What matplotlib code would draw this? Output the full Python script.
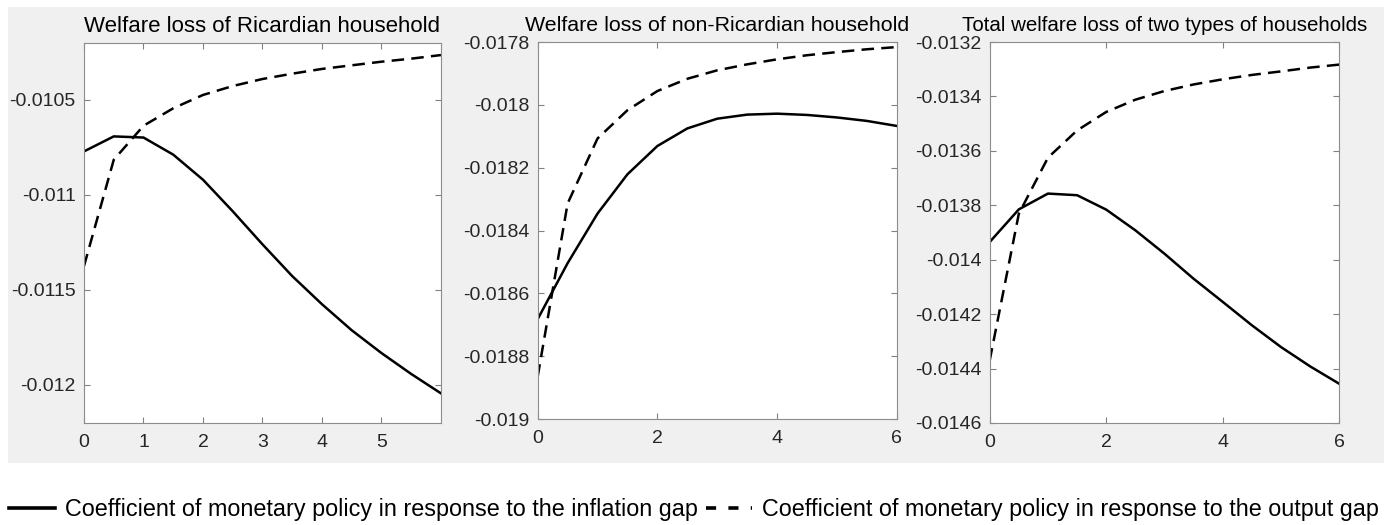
import matplotlib
matplotlib.use("Agg")
import matplotlib.pyplot as plt
from matplotlib.patches import Rectangle
from matplotlib.lines import Line2D
import numpy as np

plt.rcParams['font.family'] = ['Liberation Sans', 'DejaVu Sans']

# policy coefficient grid
coef = [0, 0.5, 1, 1.5, 2, 2.5, 3, 3.5, 4, 4.5, 5, 5.5, 6]

# Ricardian household
ric_infl = [-0.010771, -0.010692, -0.010698, -0.010788, -0.010920, -0.011086, -0.011260,
            -0.011427, -0.011575, -0.011712, -0.011832, -0.011942, -0.012044]
ric_out = [-0.011374, -0.010815, -0.010636, -0.010544, -0.010474, -0.010427, -0.010390,
           -0.010362, -0.010337, -0.010318, -0.010299, -0.010283, -0.010264]

# non-Ricardian household
non_infl = [-0.018682, -0.018504, -0.018346, -0.018221, -0.018131, -0.018075, -0.018044,
            -0.018031, -0.018028, -0.018032, -0.018040, -0.018051, -0.018067]
non_out = [-0.018865, -0.018314, -0.018107, -0.018017, -0.017956, -0.017917, -0.017890,
           -0.017871, -0.017855, -0.017842, -0.017832, -0.017823, -0.017816]

# total
tot_infl = [-0.013935, -0.013815, -0.013757, -0.013763, -0.013816, -0.013892, -0.013978,
            -0.014070, -0.014155, -0.014241, -0.014321, -0.014392, -0.014456]
tot_out = [-0.014370, -0.013831, -0.013625, -0.013525, -0.013457, -0.013412, -0.013380,
           -0.013356, -0.013337, -0.013321, -0.013308, -0.013294, -0.013283]

titles = ['Welfare loss of Ricardian household',
          'Welfare loss of non-Ricardian household',
          'Total welfare loss of two types of households']
labels = ['Coefficient of monetary policy in response to the inflation gap',
          'Coefficient of monetary policy in response to the output gap']

fig = plt.figure(figsize=(13.84, 5.25), dpi=100)
fig.patch.set_facecolor('white')
bg = Rectangle((8 / 1384, (525 - 463) / 525), 1 - 8 / 1384, (463 - 7) / 525,
               transform=fig.transFigure, facecolor='#f0f0f0', edgecolor='none', zorder=-10)
fig.patches.append(bg)

positions = [[0.0607, 0.1943, 0.2579, 0.724],
             [0.3885, 0.2019, 0.2594, 0.718],
             [0.7151, 0.1943, 0.2526, 0.7257]]
series = [(ric_infl, ric_out), (non_infl, non_out), (tot_infl, tot_out)]
ylims = [(-0.0122, -0.0102), (-0.019, -0.0178), (-0.0146, -0.0132)]
yticks = [[-0.012, -0.0115, -0.011, -0.0105],
          np.round(np.arange(-0.019, -0.01779, 0.0002), 4),
          np.round(np.arange(-0.0146, -0.01319, 0.0002), 4)]
xticks = [[0, 1, 2, 3, 4, 5], [0, 2, 4, 6], [0, 2, 4, 6]]
title_sizes = [16, 15.4, 14.8]

for i in range(3):
    ax = fig.add_axes(positions[i])
    infl, out = series[i]
    ax.plot(coef, infl, color='black', lw=1.8)
    ax.plot(coef, out, color='black', lw=1.8, linestyle=(0, (5, 2.9)))
    ax.set_xlim(0, 6)
    ax.set_ylim(*ylims[i])
    ax.set_xticks(xticks[i])
    ax.set_yticks(yticks[i])
    ax.set_yticklabels([('%g' % v) for v in yticks[i]])
    ax.tick_params(direction='in', top=True, right=True, length=4, width=0.8,
                   color='#808080', labelcolor='#262626', labelsize=14)
    ax.tick_params(axis='y', pad=6)
    ax.tick_params(axis='x', pad=8)
    for s in ax.spines.values():
        s.set_color('#8c8c8c')
        s.set_linewidth(0.8)
    ax.set_title(titles[i], fontsize=title_sizes[i], color='black', pad=8)

handles = [Line2D([], [], color='black', lw=2.6),
           Line2D([], [], color='black', lw=2.6, linestyle=(0, (2.8, 3.4)))]
fig.legend(handles, labels, loc='center left', bbox_to_anchor=(9 / 1384, (525 - 509.5) / 525),
           ncol=2, frameon=False, fontsize=16.8, handlelength=1.97, handletextpad=0.43,
           columnspacing=0.34, borderpad=0, borderaxespad=0)

fig.savefig('out.png', dpi=100)
